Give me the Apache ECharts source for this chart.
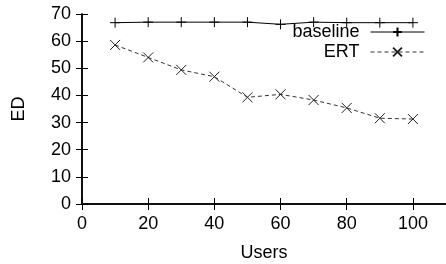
<!DOCTYPE html>
<html>
<head>
<meta charset="utf-8">
<script src="https://cdn.jsdelivr.net/npm/echarts@6/dist/echarts.min.js"></script>
<style>
  html, body { margin: 0; padding: 0; background: #fff; }
  #chart { width: 446px; height: 264px; }
</style>
</head>
<body>
<div id="chart"></div>
<script>
// data
const users = [10, 20, 30, 40, 50, 60, 70, 80, 90, 100]
const baselineED = [66.8, 67, 67, 67, 67, 66.2, 67, 66.8, 66.8, 66.8]
const ertED = [58.6, 54.0, 49.4, 46.9, 39.3, 40.4, 38.3, 35.4, 31.6, 31.3]

const FONT = 'Liberation Sans'
const plusSymbol = 'path://M0,5L10,5M5,0L5,10'
const crossSymbol = 'path://M0,0L10,10M10,0L0,10'

const chart = echarts.init(document.getElementById('chart'))

function pairs(xs, ys) {
  return xs.map((x, i) => [x, ys[i]])
}

// box axis (top / right), ticks only
const mirrorAxis = {
  min: 0,
  axisLine: { show: true, lineStyle: { color: '#000', width: 1.5 } },
  axisTick: { show: true, inside: true, length: 6, lineStyle: { color: '#000', width: 1 } },
  axisLabel: { show: false },
  splitLine: { show: false }
}

const option = {
  animation: false,
  backgroundColor: '#fff',
  textStyle: { fontFamily: FONT },
  grid: { left: 82, right: 0, top: 14, bottom: 60, outerBoundsMode: 'none', containLabel: false },
  legend: {
    right: 21,
    top: 22,
    padding: 0,
    orient: 'vertical',
    align: 'right',
    itemWidth: 54,
    itemHeight: 11,
    itemGap: 0,
    lineStyle: { width: 1 },
    textStyle: { fontFamily: FONT, fontSize: 18, lineHeight: 20, color: '#000', padding: [0, 6, 0, 0] },
    data: ['baseline', 'ERT']
  },
  xAxis: [{
    type: 'value',
    min: 0,
    max: 110,
    interval: 20,
    name: 'Users',
    nameLocation: 'middle',
    nameGap: 40,
    nameTextStyle: { fontFamily: FONT, fontSize: 18, color: '#000' },
    axisLine: { show: true, lineStyle: { color: '#000', width: 1.5 } },
    axisTick: { show: true, inside: true, length: 6, lineStyle: { color: '#000', width: 1 } },
    axisLabel: { margin: 11, fontFamily: FONT, fontSize: 18, color: '#000', showMaxLabel: false },
    splitLine: { show: false }
  }, Object.assign({}, mirrorAxis, {
    type: 'value', position: 'top', max: 110, interval: 20
  })],
  yAxis: [{
    type: 'value',
    min: 0,
    max: 70,
    interval: 10,
    name: 'ED',
    nameLocation: 'middle',
    nameGap: 54,
    nameRotate: 90,
    nameTextStyle: { fontFamily: FONT, fontSize: 18, color: '#000' },
    axisLine: { show: true, lineStyle: { color: '#000', width: 1.5 } },
    axisTick: { show: true, inside: true, length: 6, lineStyle: { color: '#000', width: 1 } },
    axisLabel: { margin: 11, fontFamily: FONT, fontSize: 18, color: '#000' },
    splitLine: { show: false }
  }, Object.assign({}, mirrorAxis, {
    type: 'value', position: 'right', max: 70, interval: 10
  })],
  series: [{
    name: 'baseline',
    type: 'line',
    data: pairs(users, baselineED),
    symbol: plusSymbol,
    symbolSize: 10,
    showAllSymbol: true,
    lineStyle: { color: '#000', width: 1 },
    itemStyle: { color: '#000', borderColor: '#000', borderWidth: 1 }
  }, {
    name: 'ERT',
    type: 'line',
    data: pairs(users, ertED),
    symbol: crossSymbol,
    symbolSize: 10,
    showAllSymbol: true,
    lineStyle: { color: '#333', width: 1, type: [4, 3] },
    itemStyle: { color: '#222', borderColor: '#222', borderWidth: 1 }
  }]
}

chart.setOption(option)
</script>
</body>
</html>
